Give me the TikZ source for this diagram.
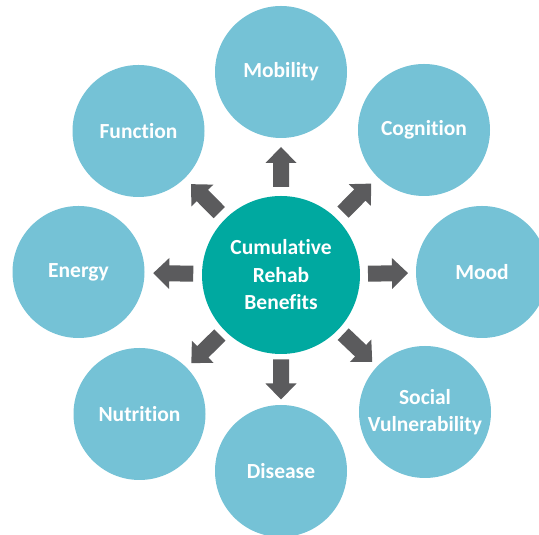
\documentclass[tikz,border=0pt]{standalone}
\usepackage{fontspec}
\setmainfont[Ligatures={NoCommon}]{Carlito}
\usetikzlibrary{calc}

\definecolor{hubteal}{HTML}{00A9A0}
\definecolor{spokeblue}{HTML}{75C2D6}
\definecolor{arrowgrey}{HTML}{5B5B5D}

\tikzset{
  label font/.style={text=white, font=\bfseries\fontsize{21.5}{27.5}\selectfont, align=center},
  hub/.style={circle, fill=hubteal, minimum size=158pt, inner sep=0pt, label font},
  spoke/.style={circle, fill=spokeblue, minimum size=132pt, inner sep=0pt, label font},
  linkarrow/.style={fill=arrowgrey, draw=none}
}

% Block arrow centred in the gap between hub #1 and spoke #2
\newcommand\spokearrow[2]{%
  \fill[linkarrow]
    ($(#1)!0.5!(#2)!26.5pt!(#2)$)
    -- ($(#1)!0.5!(#2)!10.5pt!(#2)!15.5pt!90:(#2)$)
    -- ($(#1)!0.5!(#2)!10.5pt!(#2)!8pt!90:(#2)$)
    -- ($(#1)!0.5!(#2)!-13.5pt!(#2)!8pt!90:(#2)$)
    -- ($(#1)!0.5!(#2)!-13.5pt!(#2)!8pt!-90:(#2)$)
    -- ($(#1)!0.5!(#2)!10.5pt!(#2)!8pt!-90:(#2)$)
    -- ($(#1)!0.5!(#2)!10.5pt!(#2)!15.5pt!-90:(#2)$)
    -- cycle;}

\begin{document}
\begin{tikzpicture}[x=1pt, y=1pt]
  \clip (0,0) rectangle (539,535);
  \fill[white] (0,0) rectangle (539,535);

  \node[hub] (hub) at (281,260) {Cumulative\\Rehab\\Benefits};

  \node[spoke] (mobility)  at (281,463)   {Mobility};
  \node[spoke] (cognition) at (424,405)   {Cognition};
  \node[spoke] (mood)      at (482,263)   {Mood};
  \node[spoke] (social)    at (425,123)   {Social\\Vulnerability};
  \node[spoke] (disease)   at (281,64)    {Disease};
  \node[spoke] (nutrition) at (139.5,121) {Nutrition};
  \node[spoke] (energy)    at (78.5,263)  {Energy};
  \node[spoke] (function)  at (138.5,404) {Function};

  \foreach \s in {mobility, cognition, mood, social, disease, nutrition, energy, function}
    {\spokearrow{hub}{\s}}
\end{tikzpicture}
\end{document}
